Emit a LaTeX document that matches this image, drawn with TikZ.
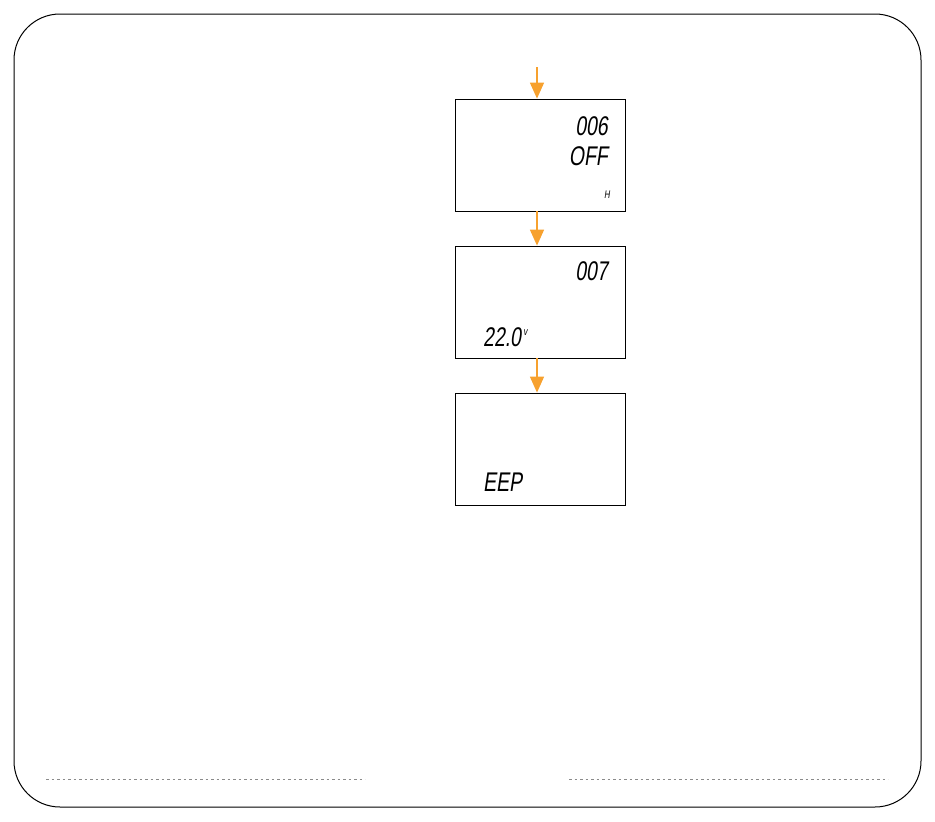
\documentclass[tikz,border=0pt]{standalone}
\usepackage{fontspec}
\usetikzlibrary{arrows.meta}
\newfontfamily\lcd[FakeSlant=0.15,FakeStretch=0.72]{Liberation Sans}
\definecolor{arroworange}{HTML}{F7A12E}
\definecolor{dotgray}{HTML}{8A8A8A}
\tikzset{
  screen/.style={draw=black, line width=0.8pt, minimum width=170pt, minimum height=112pt, inner sep=0pt},
  flow/.style={draw=arroworange, line width=1.5pt, -{Triangle[length=16pt,width=14pt]}},
  lcdbig/.style={font=\lcd\fontsize{27}{27}\selectfont, inner sep=0pt},
  lcdsmall/.style={font=\lcd\fontsize{11}{11}\selectfont, inner sep=0pt}
}
\tikzset{footline/.style={draw=dotgray, line width=0.6pt, dash pattern=on 2.5pt off 3pt}}
\begin{document}
\begin{tikzpicture}[x=1pt,y=-1pt]
\useasboundingbox (0,0) rectangle (935,822);
\draw[line width=1pt, rounded corners=46pt] (14,14) rectangle (921,807);
% screens
\node[screen] (s1) at (540,155) {};
\node[screen] (s2) at (540,302) {};
\node[screen] (s3) at (540,449) {};
% arrows
\coordinate (top) at (537,67);
\draw[flow] (top) -- (top |- s1.north);
\draw[flow] ([xshift=-3pt]s1.south) -- ([xshift=-3pt]s2.north);
\draw[flow] ([xshift=-3pt]s2.south) -- ([xshift=-3pt]s3.north);
% texts
\node[lcdbig, anchor=base east] (t006) at (608,135) {006};
\node[lcdbig, anchor=base east] (toff) at (608,165) {OFF};
\node[lcdsmall, anchor=base east] (th) at (610,198) {H};
\node[lcdbig, anchor=base east] (t007) at (608,280) {007};
\node[lcdbig, anchor=base west] (t220) at (483,346) {22.0};
\node[lcdsmall, anchor=base west] (tv) at (t220.base east) [yshift=11pt, xshift=2pt] {v};
\node[lcdbig, anchor=base west] (teep) at (483,491) {EEP};
% footer lines
\coordinate (fl1) at (46,779);
\coordinate (fl2) at (365,779);
\coordinate (fr1) at (569,779);
\coordinate (fr2) at (888,779);
\draw[footline] (fl1) -- (fl2);
\draw[footline] (fr1) -- (fr2);
\end{tikzpicture}
\end{document}
